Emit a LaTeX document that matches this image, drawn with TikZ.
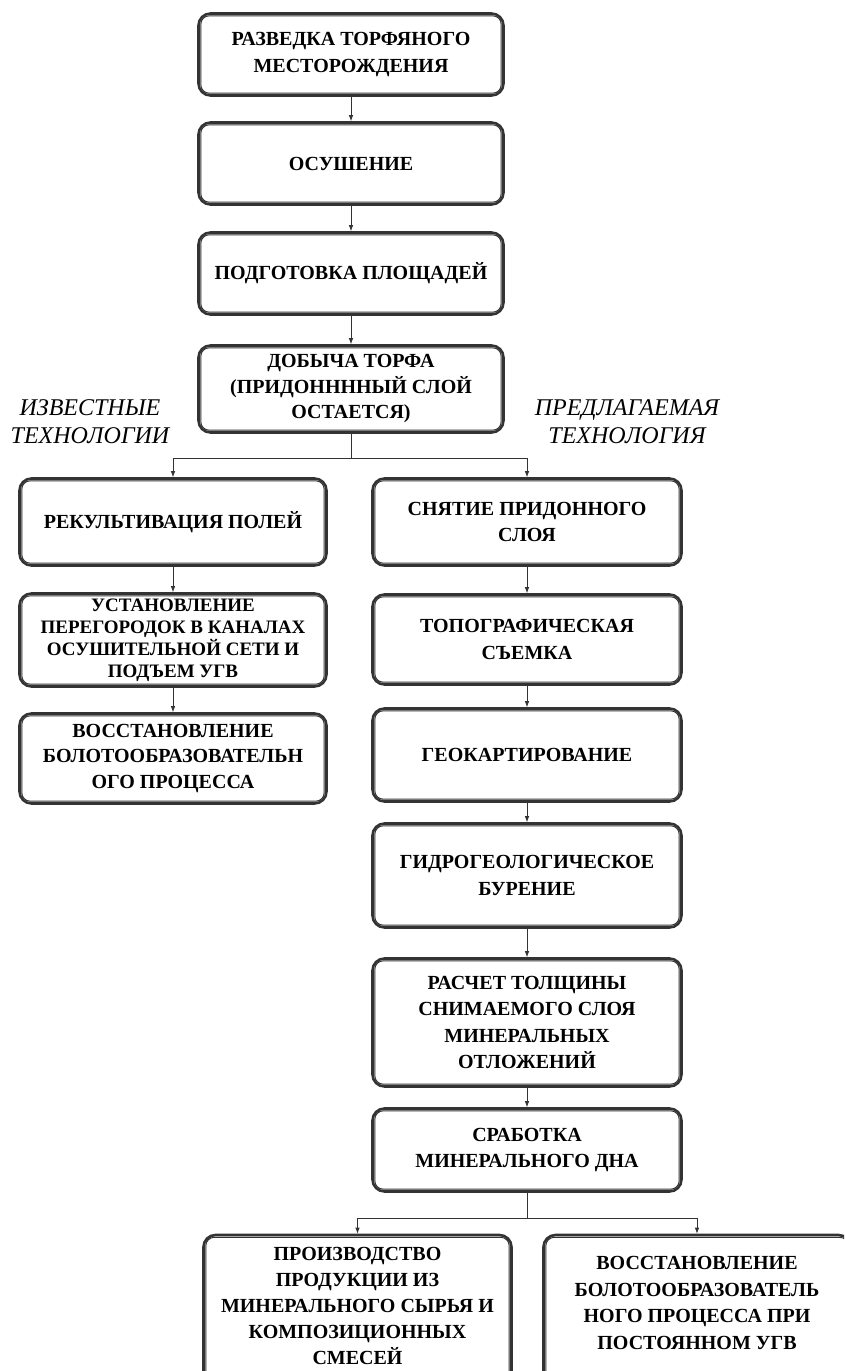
\documentclass[tikz,border=0pt]{standalone}
\usepackage{fontspec}
\setmainfont{Liberation Serif}
\usetikzlibrary{positioning,calc,arrows.meta}

\begin{document}
\begin{tikzpicture}[x=1pt, y=-1pt,
    block/.style={rectangle, draw=black!80, line width=2.6pt, rounded corners=12pt, align=center, inner sep=2pt, font=\bfseries\fontsize{20}{26.5}\selectfont,
        append after command={\pgfextra{\draw[draw=black!80, line width=1pt, rounded corners=8.5pt] ([shift={(3.6pt,3.6pt)}]\tikzlastnode.south west) rectangle ([shift={(-3.6pt,-3.6pt)}]\tikzlastnode.north east);}}},
    topcol/.style={block, minimum width=305pt},
    leftcol/.style={block, minimum width=307pt},
    rightcol/.style={block, minimum width=309pt},
    tech/.style={align=center, font=\itshape\fontsize{24}{28}\selectfont},
    link/.style={draw=black!80, line width=0.8pt},
    line/.style={link, -{Latex[length=6pt,width=4.5pt]}}]

    \path[use as bounding box, clip] (0,0) rectangle (844,1371);

    % Nodes
    \node [topcol, minimum height=82pt] (razvedka) at (351,54.5) {РАЗВЕДКА ТОРФЯНОГО\\МЕСТОРОЖДЕНИЯ};
    \node [topcol, minimum height=82pt] (osushenie) at (351,163.5) {ОСУШЕНИЕ};
    \node [topcol, minimum height=82pt] (podgotovka) at (351,273.5) {ПОДГОТОВКА ПЛОЩАДЕЙ};
    \node [topcol, minimum height=87pt, font=\bfseries\fontsize{20}{25.5}\selectfont] (dobycha) at (351,389) {ДОБЫЧА ТОРФА\\(ПРИДОННННЫЙ СЛОЙ\\ОСТАЕТСЯ)};

    \node [tech] (izvestnye) at (90,422) {ИЗВЕСТНЫЕ\\ТЕХНОЛОГИИ};
    \node [tech] (predlag) at (627,422) {ПРЕДЛАГАЕМАЯ\\ТЕХНОЛОГИЯ};

    \node [leftcol, minimum height=87pt] (rekult) at (173,522) {РЕКУЛЬТИВАЦИЯ ПОЛЕЙ};
    \node [leftcol, minimum height=93pt, inner sep=0pt, font=\bfseries\fontsize{19}{22}\selectfont] (peregorodki) at (173,640) {УСТАНОВЛЕНИЕ\\ПЕРЕГОРОДОК В КАНАЛАХ\\ОСУШИТЕЛЬНОЙ СЕТИ И\\ПОДЪЕМ УГВ};
    \node [leftcol, minimum height=90pt, font=\bfseries\fontsize{20}{25.5}\selectfont] (vosstL) at (173,758.5) {ВОССТАНОВЛЕНИЕ\\БОЛОТООБРАЗОВАТЕЛЬН\\ОГО ПРОЦЕССА};

    \node [rightcol, minimum height=87pt] (snyatie) at (527,522) {СНЯТИЕ ПРИДОННОГО\\СЛОЯ};
    \node [rightcol, minimum height=90pt] (topo) at (527,639.5) {ТОПОГРАФИЧЕСКАЯ\\СЪЕМКА};
    \node [rightcol, minimum height=93pt] (geokart) at (527,755) {ГЕОКАРТИРОВАНИЕ};
    \node [rightcol, minimum height=104pt] (burenie) at (527,875.5) {ГИДРОГЕОЛОГИЧЕСКОЕ\\БУРЕНИЕ};
    \node [rightcol, minimum height=128pt] (raschet) at (527,1022.5) {РАСЧЕТ ТОЛЩИНЫ\\СНИМАЕМОГО СЛОЯ\\МИНЕРАЛЬНЫХ\\ОТЛОЖЕНИЙ};
    \node [rightcol, minimum height=83pt] (srabotka) at (527,1150) {СРАБОТКА\\МИНЕРАЛЬНОГО ДНА};

    \node [block, minimum width=308pt, minimum height=150pt, text depth=8pt, font=\bfseries\fontsize{20}{26}\selectfont] (proizv) at (357.5,1310) {ПРОИЗВОДСТВО\\ПРОДУКЦИИ ИЗ\\МИНЕРАЛЬНОГО СЫРЬЯ И\\КОМПОЗИЦИОННЫХ\\СМЕСЕЙ};
    \node [block, minimum width=307pt, minimum height=150pt, text depth=14pt] (vosstR) at (697,1310) {ВОССТАНОВЛЕНИЕ\\БОЛОТООБРАЗОВАТЕЛЬ\\НОГО ПРОЦЕССА ПРИ\\ПОСТОЯННОМ УГВ};

    \coordinate (fork1) at (351,458);
    \coordinate (fork2) at (527,1218);

    % Paths
    \path [line] (razvedka) -- (osushenie);
    \path [line] (osushenie) -- (podgotovka);
    \path [line] (podgotovka) -- (dobycha);
    \path [link] (dobycha) -- (fork1);
    \path [line] (fork1) -| (rekult);
    \path [line] (fork1) -| (snyatie);
    \path [line] (rekult) -- (peregorodki);
    \path [line] (peregorodki) -- (vosstL);
    \path [line] (snyatie) -- (topo);
    \path [line] (topo) -- (geokart);
    \path [line] (geokart) -- (burenie);
    \path [line] (burenie) -- (raschet);
    \path [line] (raschet) -- (srabotka);
    \path [link] (srabotka) -- (fork2);
    \path [line] (fork2) -| (proizv);
    \path [line] (fork2) -| (vosstR);

\end{tikzpicture}
\end{document}
